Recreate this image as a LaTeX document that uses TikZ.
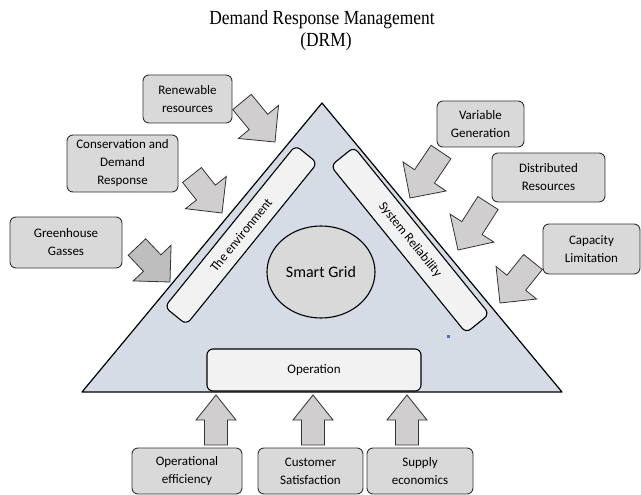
\documentclass[tikz,border=0pt]{standalone}
\usepackage{fontspec}
\setmainfont{Carlito}
\newfontfamily\titlefont{Liberation Serif}
\usepackage{graphicx}
\usetikzlibrary{shapes.geometric, calc, positioning}
\definecolor{trifill}{RGB}{214,220,229}
\definecolor{boxfill}{RGB}{217,217,217}
\definecolor{barfill}{RGB}{242,242,242}
\definecolor{arrowgray}{RGB}{208,206,206}
\definecolor{darkarrow}{RGB}{190,190,190}
\definecolor{dotblue}{RGB}{68,114,196}

% block arrow: [style] tail, tip, half shaft, half head, head length
\newcommand{\blockarrow}[6][]{%
  \path ($(#3)!#6!(#2)$) coordinate (bah);
  \draw[bigarrow, #1] ($(#2)!#4!90:(#3)$) -- ($(bah)!#4!90:(#3)$) -- ($(bah)!#5!90:(#3)$) -- (#3)
    -- ($(bah)!#5!-90:(#3)$) -- ($(bah)!#4!-90:(#3)$) -- ($(#2)!#4!-90:(#3)$) -- cycle;}

\begin{document}
\begin{tikzpicture}[x=1pt, y=-1pt,
    factor/.style={draw=black!80, fill=boxfill, rounded corners=6pt, line width=0.9pt, inner sep=0pt, align=center, font=\fontsize{13}{18}\selectfont},
    bar/.style={draw=black, fill=barfill, rounded corners=6pt, line width=1.1pt, inner sep=0pt, font=\fontsize{13}{16}\selectfont},
    bigarrow/.style={draw=black!80, fill=arrowgray, line width=0.8pt, line join=miter}]
  \useasboundingbox (0,0) rectangle (641,495);

  % title
  \node[anchor=base, font=\titlefont\fontsize{20}{22}\selectfont] (title) at (322,25) {\scalebox{0.87}[1]{Demand Response Management}};
  \node[anchor=base, font=\titlefont\fontsize{20}{22}\selectfont] (drm) at (326,47) {\scalebox{0.87}[1]{(DRM)}};

  % triangle
  \coordinate (apex) at (322,103);
  \coordinate (bright) at (562,392);
  \coordinate (bleft) at (82,392);
  \draw[fill=trifill, line width=1.2pt, line join=round] (apex) -- (bright) -- (bleft) -- cycle;

  % sides and centre
  \node[bar, rotate=51, minimum width=208, minimum height=28] (env) at (241,235) {The environment};
  \node[bar, rotate=-51, minimum width=215, minimum height=30] (rel) at (410,240) {System Reliability};
  \node[ellipse, draw=black, fill=boxfill, line width=1.1pt, minimum width=108, minimum height=92, inner sep=0pt, font=\fontsize{16}{18}\selectfont] (grid) at (321,272) {Smart Grid};
  \node[bar, minimum width=214, minimum height=42] (oper) at (314,370) {Operation};
  \fill[dotblue] (446.5,334.5) rectangle (449.5,337.5);

  % left factors
  \node[factor, minimum width=89, minimum height=48] (ren) at (187.5,99) {Renewable\\resources};
  \node[factor, minimum width=111, minimum height=57] (cons) at (122.5,163.5) {Conservation and\\Demand\\Response};
  \node[factor, minimum width=112, minimum height=51] (gas) at (66,242.5) {Greenhouse\\Gasses};

  % right factors
  \node[factor, minimum width=87, minimum height=46] (var) at (480.5,124) {Variable\\Generation};
  \node[factor, minimum width=113, minimum height=49] (dist) at (548.5,177.5) {Distributed\\Resources};
  \node[factor, minimum width=97, minimum height=50] (cap) at (591.5,249) {Capacity\\Limitation};

  % bottom factors
  \node[factor, minimum width=110, minimum height=46] (eff) at (187,471) {Operational\\efficiency};
  \node[factor, minimum width=105, minimum height=46] (cust) at (310.5,471) {Customer\\Satisfaction};
  \node[factor, minimum width=106, minimum height=46] (sup) at (420,471) {Supply\\economics};

  % arrow ends
  \coordinate (renT) at (242,102);  \coordinate (renH) at (275,142);
  \coordinate (consT) at (192,175); \coordinate (consH) at (222,213);
  \coordinate (gasT) at (137,247);  \coordinate (gasH) at (170,282);
  \coordinate (varT) at (441,152);  \coordinate (varH) at (410,198);
  \coordinate (distT) at (488,203); \coordinate (distH) at (458,250);
  \coordinate (capT) at (533,262);  \coordinate (capH) at (500,303);
  \coordinate (effT) at (216,445);  \coordinate (effH) at (216,395);
  \coordinate (custT) at (313,445); \coordinate (custH) at (313,395);
  \coordinate (supT) at (407,445);  \coordinate (supH) at (407,395);

  \blockarrow{renT}{renH}{12pt}{26pt}{26pt}
  \blockarrow{consT}{consH}{12pt}{26pt}{26pt}
  \blockarrow[fill=darkarrow]{gasT}{gasH}{12pt}{26pt}{26pt}
  \blockarrow{varT}{varH}{12pt}{26pt}{26pt}
  \blockarrow{distT}{distH}{12pt}{26pt}{26pt}
  \blockarrow{capT}{capH}{12pt}{26pt}{26pt}
  \blockarrow{effT}{effH}{11.5pt}{20pt}{25pt}
  \blockarrow{custT}{custH}{11.5pt}{20pt}{25pt}
  \blockarrow{supT}{supH}{11.5pt}{20pt}{25pt}
\end{tikzpicture}
\end{document}
